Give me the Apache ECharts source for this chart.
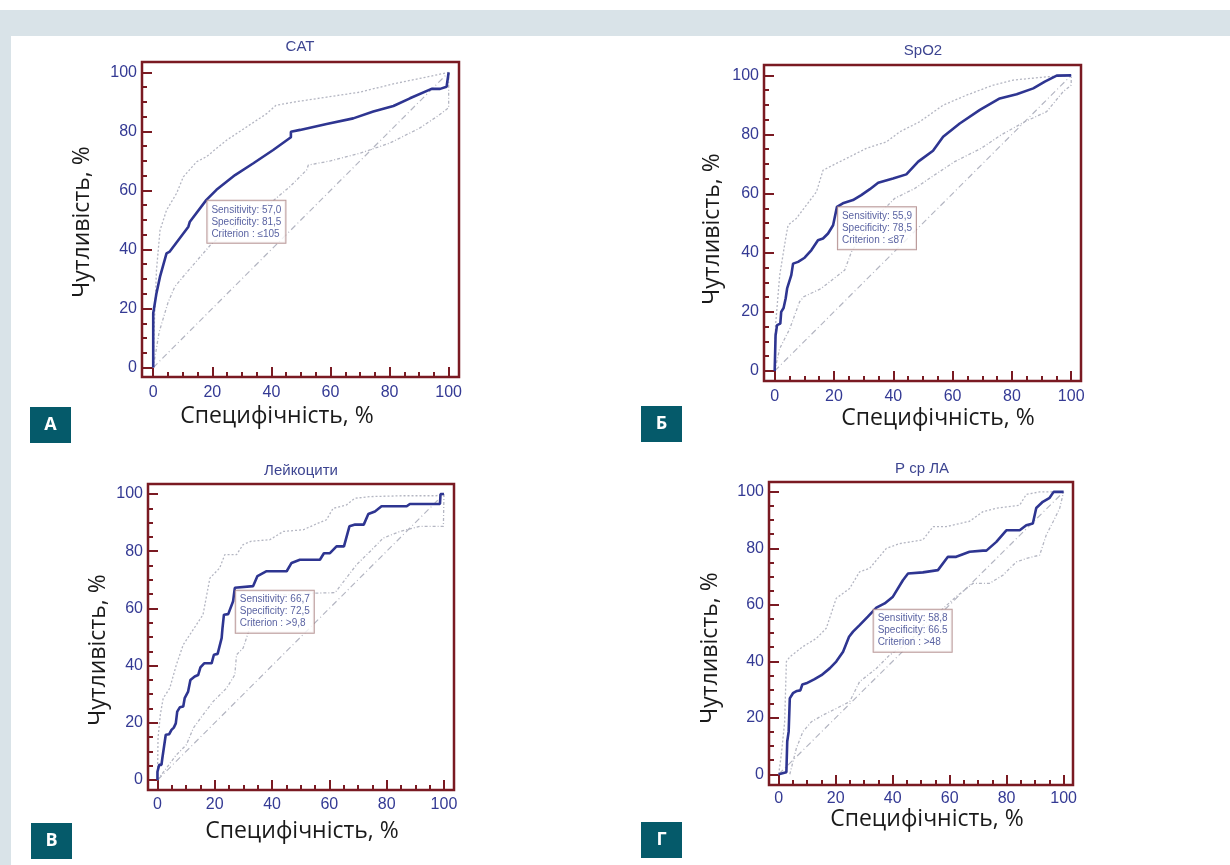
<!DOCTYPE html>
<html><head><meta charset="utf-8">
<script src="https://cdn.jsdelivr.net/npm/echarts@6/dist/echarts.min.js"></script>
<style>html,body{margin:0;padding:0;background:#fff}#c{width:1230px;height:865px}</style>
</head><body><div id="c"></div><script>
const panelTitles = ['CAT', 'SpO2', 'Лейкоцити', 'P ср ЛА'];
const panelLetters = ['А', 'Б', 'В', 'Г'];
const xAxisName = 'Специфічність, %';
const yAxisName = 'Чутливість, %';
const majorTicks = [0, 20, 40, 60, 80, 100];
const minorTicks = [5, 10, 15, 25, 30, 35, 45, 50, 55, 65, 70, 75, 85, 90, 95];
const diagonal = [[0, 0], [100, 100]];

const sensitivityText = ['57,0', '55,9', '66,7', '58,8'];
const specificityText = ['81,5', '78,5', '72,5', '66.5'];
const criterionText = ['≤105', '≤87', '>9,8', '>48'];
const sensitivity = [57.0, 55.9, 66.7, 58.8];
const specificity = [81.5, 78.5, 72.5, 66.5];

const rocA = [[0,0],[0,18.4],[1.1,25.2],[2.3,30.8],[4.5,38.7],[5.6,39.3],[11.9,47.7],[12.4,49.4],[18,56.8],[21.4,60.2],[27.7,65.2],[33.9,69.2],[40.6,73.7],[46.6,78],[46.6,79.9],[49.7,80.5],[58.7,82.5],[67.7,84.4],[74.5,86.7],[81.3,88.6],[86.9,91.2],[94.2,94.4],[97.1,94.4],[99.3,95.1],[100,100]];
const upperA = [[0,0],[0.3,12.8],[1.1,33],[2.3,46.5],[4.5,53.3],[7.9,59],[10.2,64.6],[14.7,69.7],[18,71.4],[24.8,77],[31.6,81.5],[38.4,86],[41.5,88.8],[47.4,89.9],[58.7,91.6],[70,93.3],[81.3,96.1],[92.5,98.4],[100,100]];
const lowerA = [[0,0],[2,12],[5,22],[7.3,27.4],[12,33],[19.8,42],[30,50],[40,56],[46.3,61.3],[52,67],[52.5,68.6],[60,70],[70,72.6],[80,76],[90,81],[96,85],[100,88],[100,100]];

const rocB = [[0,0],[0.3,12],[0.8,15.5],[1.9,16],[2.2,20],[3,21.3],[3.7,24.5],[4.2,27.9],[5.6,32.4],[6.2,36.3],[7.9,36.9],[10.1,38.3],[12.4,40.9],[14.6,44.2],[16.3,44.8],[18,46.5],[19.7,49.3],[21,55.5],[23,56.7],[26.4,57.8],[29.2,59.5],[32.1,61.5],[34.9,63.7],[39.9,65.1],[44.4,66.5],[48.4,70.8],[53.4,74.5],[56.8,79.2],[62.4,83.7],[69.2,88.3],[75.9,92.2],[81.6,93.6],[87.2,95.6],[91.1,97.9],[95.1,99.9],[100,100]];
const upperB = [[0,0],[0.3,15.5],[1.7,32.4],[3.7,44.8],[4.5,49.3],[7.3,51.6],[10.7,56.1],[14.1,60.6],[16.3,67.9],[20.8,70.2],[26.4,73],[30.9,75.3],[37.7,77.5],[42.2,80.9],[48.9,84.3],[56.8,89.9],[64.7,93.3],[73.7,96.7],[80.4,98.4],[91.7,99.5],[100,100]];
const lowerB = [[0,0],[1.7,7.6],[5.1,14.3],[8.4,23.4],[9.8,25.1],[15.7,27.9],[21.4,32.4],[23.6,34.1],[25.9,40.3],[31.5,49.3],[40.5,58.4],[47.2,61.7],[53.9,66.3],[60.7,70.8],[69.6,75.3],[76.3,79.8],[84.3,84.3],[91.7,87.7],[97.3,94.5],[100,96.7],[100,100]];

const rocC = [[0,0],[0,2.9],[0.6,5.3],[1.4,5.3],[1.7,7.6],[2.3,8.2],[2.9,15.8],[4.1,16],[4.9,17.5],[5.7,18.3],[6.4,19.8],[6.9,23.9],[7.8,25.4],[9,25.7],[9.5,28.6],[10.7,30.9],[11.5,35],[13,36.2],[14.2,36.7],[15,39.4],[16.3,40.8],[18.9,40.8],[19.7,43.8],[21,44.1],[22.4,49.6],[22.7,53.1],[23.2,57.8],[24.7,58],[26.4,62.5],[27,67.2],[33.4,67.8],[34.9,71.3],[38.1,73],[45.1,73],[46.8,75.9],[49.7,77],[56.7,77],[58.1,79.3],[60.2,79.3],[62.5,81.7],[65.1,81.7],[67,88.7],[69,89.3],[72,89.3],[73.6,93],[75.9,93.9],[78.2,95.7],[87,95.7],[88.1,96.5],[98.6,96.5],[98.8,100],[100,100]];
const upperC = [[0,0],[0.2,14.6],[1,22.8],[2,28.6],[4.3,32.1],[6.6,40.3],[9,47.3],[11.3,50.8],[13.6,54.3],[15.9,57.8],[18.3,70.6],[21.7,74.1],[23.5,78.8],[27.6,78.8],[29.9,82.3],[32.8,83.5],[39.2,84],[43.9,86.9],[50.9,87.5],[56.1,89.8],[59,91],[61.3,95],[66,96.2],[68.9,98.5],[74.2,99.1],[85.8,99.4],[97.4,99.4],[100,100]];
const lowerC = [[0,0],[3.1,4.1],[6.6,8.8],[10.1,12.3],[12.5,18.1],[15.9,22.8],[19.4,27.4],[24.1,32.1],[27,36.8],[27.6,43.8],[29.9,46.1],[32.2,53.1],[36.9,57.8],[41.6,64.8],[48.5,64.8],[53.2,65.3],[62,65.5],[69.5,75.3],[74.2,79.9],[78.8,84.6],[84.6,86.9],[91.6,88.7],[99.8,88.7],[100,100]];

const rocD = [[0,0],[0,0.7],[2.7,0.7],[3,11.6],[3.5,15.1],[3.9,26.9],[5,28.7],[6.4,29.5],[7.6,29.7],[8.3,31.8],[9.7,32.2],[12.6,33.7],[15,35.1],[17.9,37.5],[20.2,39.9],[22.6,43.4],[24.7,48.7],[26.1,50.5],[28.4,52.8],[31.3,55.8],[34.3,59],[37.2,60.5],[40.1,62.9],[43.6,68.7],[45.4,71.1],[50.6,71.5],[55.9,72.3],[59.4,77],[62.3,77],[67,78.8],[71.7,79.2],[72.9,79.2],[76.4,82.3],[79.9,86.4],[84.6,86.4],[86.9,88.2],[89.2,88.8],[90.4,94.3],[92.7,96.5],[95.1,97.9],[96.5,100],[100,100]];
const upperD = [[0,0],[0.9,6.8],[2.1,18.6],[2.7,39.9],[3.9,41.6],[8.5,45.2],[13.2,48.1],[16.7,51.7],[20.2,62.3],[24.9,65.8],[28.4,71.7],[31.9,72.9],[37.8,80],[42.5,81.7],[50.6,83],[54.2,87.7],[58.8,87.7],[67,89.6],[71.7,93],[76.4,94.2],[84.6,95.3],[86.9,99.1],[91.6,100],[100,100]];
const lowerD = [[3.9,0],[6.2,9.2],[8.5,15.1],[11.5,18.6],[15.6,21],[20.2,23.3],[24.9,25.7],[28.4,32.8],[34.3,37.5],[38.9,42.2],[46,46.9],[50.6,52.8],[57.7,58.7],[62.3,62.9],[68.2,67.6],[74,67.6],[78.7,70.5],[83.4,75.2],[86.9,76.4],[91.6,77.6],[93.9,84.7],[96.3,89.4],[98.6,94.1],[100,100]];

const rocs = [rocA, rocB, rocC, rocD];
const uppers = [upperA, upperB, upperC, upperD];
const lowers = [lowerA, lowerB, lowerC, lowerD];

// layout (pixels)
const frames = [
  {l:142, t:62, r:459, b:377, xmin:-3.8, xmax:103.5, ymin:-3.2, ymax:103.5, lm:8},
  {l:764, t:65, r:1081, b:381, xmin:-3.6, xmax:103.3, ymin:-3.4, ymax:103.5, lm:8},
  {l:148, t:484, r:454, b:790, xmin:-3.3, xmax:103.5, ymin:-3.5, ymax:103.5, lm:7},
  {l:769, t:482, r:1073, b:785, xmin:-3.4, xmax:103.3, ymin:-3.8, ymax:103.5, lm:6}
];
const titlePos = [[300,47],[923,51],[301,471],[922,469]];
const xNamePos = [[277,416],[938,418],[302,831],[927,819]];
const yNamePos = [[82,222],[712,229],[98,650],[710,648]];
const letterBox = [[30,407],[641,406],[31,823],[641,822]];

const frameColor = '#7a1a22';
const labelColor = '#343a94';
const curveColor = '#2e3591';
const ciColor = '#b4b6c2';

const grids = [], xAxes = [], yAxes = [], series = [], graphics = [];

graphics.push({type:'rect', shape:{x:0,y:10,width:1230,height:26}, style:{fill:'#d9e3e8'}, z:-10});
graphics.push({type:'rect', shape:{x:0,y:10,width:11,height:855}, style:{fill:'#d9e3e8'}, z:-10});

frames.forEach((f, i) => {
  grids.push({left:f.l, top:f.t, width:f.r-f.l, height:f.b-f.t, show:true, borderColor:frameColor, borderWidth:2.5, backgroundColor:'#fff', containLabel:false});
  const common = {gridIndex:i, type:'value', splitLine:{show:false}, axisLine:{show:false, onZero:false}};
  xAxes.push(Object.assign({}, common, {min:f.xmin, max:f.xmax, position:'bottom',
    axisTick:{show:true, inside:true, length:10, customValues:majorTicks, lineStyle:{color:frameColor, width:2}},
    axisLabel:{show:true, customValues:majorTicks, margin:f.lm, color:labelColor, fontSize:16, fontFamily:'Liberation Sans, Arial'}}));
  xAxes.push(Object.assign({}, common, {min:f.xmin, max:f.xmax, position:'bottom',
    axisTick:{show:true, inside:true, length:5, customValues:minorTicks, lineStyle:{color:frameColor, width:2}},
    axisLabel:{show:false}}));
  yAxes.push(Object.assign({}, common, {min:f.ymin, max:f.ymax, position:'left',
    axisTick:{show:true, inside:true, length:10, customValues:majorTicks, lineStyle:{color:frameColor, width:2}},
    axisLabel:{show:true, customValues:majorTicks, margin:5, color:labelColor, fontSize:16, fontFamily:'Liberation Sans, Arial'}}));
  yAxes.push(Object.assign({}, common, {min:f.ymin, max:f.ymax, position:'left',
    axisTick:{show:true, inside:true, length:5, customValues:minorTicks, lineStyle:{color:frameColor, width:2}},
    axisLabel:{show:false}}));
  const xi = i*2, yi = i*2;
  series.push({type:'line', xAxisIndex:xi, yAxisIndex:yi, data:diagonal, showSymbol:false, silent:true,
    lineStyle:{color:ciColor, width:1.2, type:[6,3,1,3]}, z:2});
  series.push({type:'line', xAxisIndex:xi, yAxisIndex:yi, data:uppers[i], showSymbol:false, silent:true,
    lineStyle:{color:ciColor, width:1.3, type:[2,2]}, z:2});
  series.push({type:'line', xAxisIndex:xi, yAxisIndex:yi, data:lowers[i], showSymbol:false, silent:true,
    lineStyle:{color:ciColor, width:1.3, type:[3,2,1,2]}, z:2});
  series.push({type:'line', xAxisIndex:xi, yAxisIndex:yi, data:rocs[i], showSymbol:false,
    lineStyle:{color:curveColor, width:2.6}, z:4});
  series.push({type:'scatter', xAxisIndex:xi, yAxisIndex:yi, data:[[100-specificity[i], sensitivity[i]]],
    symbolSize:1, itemStyle:{color:'rgba(0,0,0,0)'}, z:5,
    label:{show:true, position:[0,2], align:'left', verticalAlign:'top',
      formatter:'Sensitivity: ' + sensitivityText[i] + '\nSpecificity: ' + specificityText[i] + '\nCriterion : ' + criterionText[i],
      color:'#2e3a8a', fontSize:10, fontFamily:'Liberation Sans, Arial', lineHeight:12,
      backgroundColor:'#fff', borderColor:'#a98080', borderWidth:1, padding:[3,4,3,4]}});

  graphics.push({type:'text', x:titlePos[i][0], y:titlePos[i][1], style:{text:panelTitles[i], fill:'#3d4591', font:'15px "Liberation Sans", Arial', textAlign:'center', textVerticalAlign:'middle'}});
  graphics.push({type:'text', x:xNamePos[i][0], y:xNamePos[i][1], style:{text:xAxisName, fill:'#1a1a1a', font:'23px "Open Sans"', textAlign:'center', textVerticalAlign:'middle'}});
  graphics.push({type:'text', x:yNamePos[i][0], y:yNamePos[i][1], rotation:Math.PI/2, style:{text:yAxisName, fill:'#1a1a1a', font:'23px "Open Sans"', textAlign:'center', textVerticalAlign:'middle'}});
  graphics.push({type:'rect', shape:{x:letterBox[i][0], y:letterBox[i][1], width:41, height:36}, style:{fill:'#055a6a'}});
  graphics.push({type:'text', x:letterBox[i][0]+20.5, y:letterBox[i][1]+18, style:{text:panelLetters[i], fill:'#fff', font:'bold 18px "Open Sans"', textAlign:'center', textVerticalAlign:'middle'}});
});

const chart = echarts.init(document.getElementById('c'), null, {renderer:'canvas'});
chart.setOption({
  animation:false,
  backgroundColor:'#fff',
  grid:grids, xAxis:xAxes, yAxis:yAxes, series:series, graphic:graphics
});
</script></body></html>
